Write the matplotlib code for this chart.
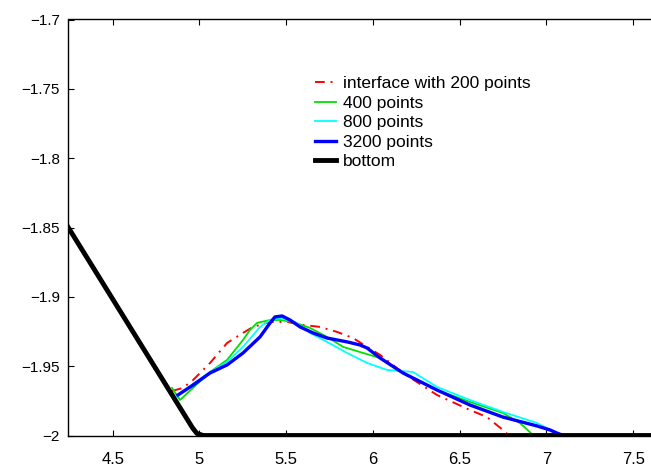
import numpy as np
import matplotlib
matplotlib.use('Agg')
import matplotlib.pyplot as plt

plt.rcParams['font.family'] = ['Liberation Sans', 'DejaVu Sans']

#####################################################################
# data
#####################################################################
x200 = [4.842, 4.905, 4.963, 5.061, 5.159, 5.251, 5.309, 5.407, 5.505, 5.597,
        5.695, 5.793, 5.885, 5.966, 6.041, 6.173, 6.369, 6.559, 6.657, 6.749, 6.772]
y200 = [-1.9679, -1.9657, -1.9600, -1.9477, -1.9333, -1.9260, -1.9217, -1.9181, -1.9181, -1.9203,
        -1.9217, -1.9253, -1.9297, -1.9361, -1.9419, -1.9549, -1.9708, -1.9816, -1.9867, -1.9960, -1.9982]

x400 = [4.842, 4.888, 5.061, 5.159, 5.251, 5.291, 5.332, 5.407, 5.464, 5.539,
        5.637, 5.735, 5.828, 5.925, 6.041, 6.173, 6.369, 6.559, 6.749, 6.847, 6.904, 6.922]
y400 = [-1.9657, -1.9744, -1.9542, -1.9455, -1.9311, -1.9239, -1.9188, -1.9167, -1.9167, -1.9181,
        -1.9224, -1.9289, -1.9361, -1.9398, -1.9441, -1.9549, -1.9672, -1.9758, -1.9838, -1.9910, -1.9975, -1.9996]

x800 = [4.870, 4.963, 5.061, 5.159, 5.251, 5.349, 5.407, 5.464, 5.551, 5.637,
        5.735, 5.851, 5.966, 6.081, 6.231, 6.369, 6.559, 6.749, 6.945, 7.060]
y800 = [-1.9715, -1.9628, -1.9542, -1.9470, -1.9361, -1.9217, -1.9167, -1.9152, -1.9181, -1.9260,
        -1.9325, -1.9405, -1.9477, -1.9527, -1.9542, -1.9650, -1.9744, -1.9830, -1.9910, -1.9982]

x3200 = [4.876, 4.963, 5.061, 5.159, 5.251, 5.349, 5.407, 5.435, 5.476, 5.522,
         5.580, 5.654, 5.735, 5.851, 5.925, 5.966, 6.041, 6.173, 6.369, 6.559,
         6.749, 6.945, 7.020, 7.060, 7.089]
y3200 = [-1.9708, -1.9636, -1.9549, -1.9491, -1.9405, -1.9289, -1.9188, -1.9145, -1.9138, -1.9167,
         -1.9217, -1.9260, -1.9297, -1.9325, -1.9347, -1.9369, -1.9441, -1.9549, -1.9672, -1.9780,
         -1.9867, -1.9931, -1.9960, -1.9982, -1.9996]

x_bot = [4.244, 4.960, 4.985, 5.022, 7.7]
y_bot = [-1.85, -1.9945, -1.9985, -2.0, -2.0]

xticks = [4.5, 5, 5.5, 6, 6.5, 7, 7.5]
xtick_labels = ['4.5', '5', '5.5', '6', '6.5', '7', '7.5']
yticks = [-2, -1.95, -1.9, -1.85, -1.8, -1.75, -1.7]
ytick_labels = ['\u22122', '\u22121.95', '\u22121.9', '\u22121.85', '\u22121.8', '\u22121.75', '\u22121.7']

#####################################################################
# plot
#####################################################################
fig = plt.figure(figsize=(6.51, 4.66), dpi=100)
ax = fig.add_axes([68.3 / 651, 1 - 435.5 / 466, (665 - 68.3) / 651, 416 / 466])

ax.plot(x200, y200, color='red', lw=1.4, ls=(0, (5, 3, 1, 3)), label='interface with 200 points')
ax.plot(x400, y400, color='#00e000', lw=1.3, label='400 points')
ax.plot(x800, y800, color='cyan', lw=1.3, label='800 points')
ax.plot(x3200, y3200, color='blue', lw=2.4, label='3200 points')
ax.plot(x_bot, y_bot, color='black', lw=3.5, label='bottom', solid_joinstyle='round')

ax.set_xlim(4.244, 4.244 + (665 - 68.3) / 173.5)
ax.set_ylim(-2.0, -1.7)
ax.set_xticks(xticks)
ax.set_xticklabels(xtick_labels)
ax.set_yticks(yticks)
ax.set_yticklabels(ytick_labels)
ax.tick_params(direction='in', length=4, width=0.8, labelsize=11, top=True, right=True)
ax.tick_params(axis='x', labelsize=12, pad=12)
ax.tick_params(axis='y', pad=6)
for s in ax.spines.values():
    s.set_linewidth(1.0)

leg = ax.legend(loc='upper left', bbox_to_anchor=(315 / 651, 1 - 76 / 466),
                bbox_transform=fig.transFigure, frameon=False, fontsize=12.5,
                handlelength=1.2, handletextpad=0.4, labelspacing=0.25,
                borderpad=0, borderaxespad=0)

fig.savefig('out.png', dpi=100)
